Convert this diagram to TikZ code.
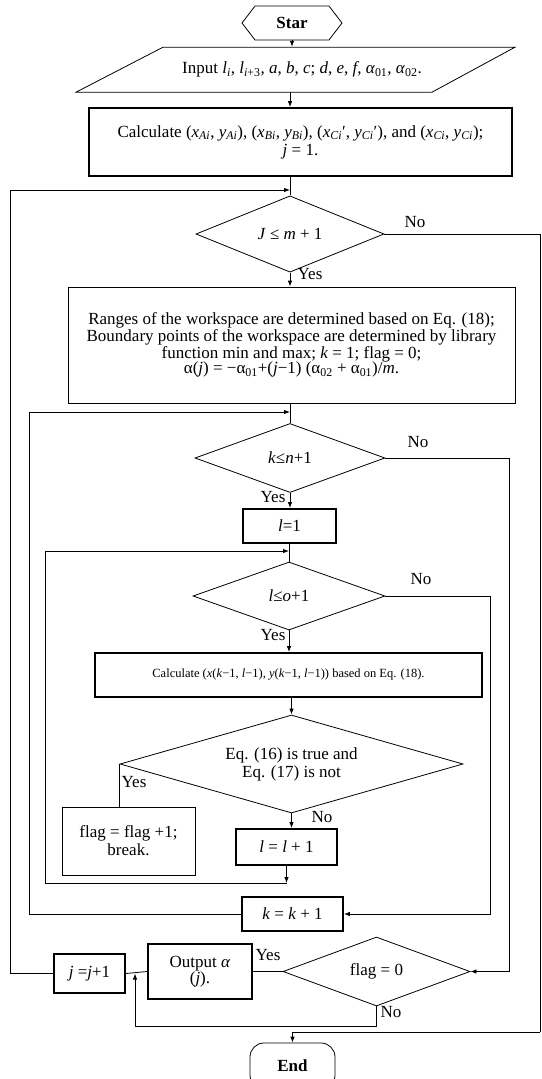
\documentclass[tikz,border=0pt]{standalone}
\usepackage{fontspec}
\setmainfont{Liberation Serif}
\usetikzlibrary{arrows.meta, positioning, shapes.geometric, shapes.symbols}

\newcommand{\fs}{\fontsize{17}{18}\selectfont}
\newcommand{\ssub}[1]{\textsubscript{#1}}
\newcommand{\vi}[1]{\textit{#1}}

\tikzset{
  box/.style={draw, line width=0.8pt, align=center, inner sep=2pt, font=\fs},
  thickbox/.style={box, line width=1.8pt},
  decision/.style={diamond, draw, line width=0.8pt, align=center, inner sep=0pt, font=\fs},
  flow/.style={-{Latex[length=6pt,width=4.5pt]}, line width=0.8pt},
  link/.style={line width=0.8pt},
  lbl/.style={font=\fs, inner sep=0pt}
}

\begin{document}
\begin{tikzpicture}[x=1pt, y=-1pt]
  \useasboundingbox (0,0) rectangle (541,1079);
  \coordinate (axis) at (290,0);

  % Start and input
  \node[signal, signal to=east and west, signal pointer angle=105, draw, line width=0.8pt,
        minimum width=100pt, minimum height=34pt, inner sep=0pt, font=\fs\bfseries]
        (start) at (292,23) {Star};
  \node[font=\fs, minimum height=45pt, minimum width=300pt, inner sep=0pt]
        (input) at (302,69.5)
        {Input \vi{l}\ssub{\vi{i}}, \vi{l}\ssub{\vi{i}+3}, \vi{a}, \vi{b}, \vi{c}; \vi{d}, \vi{e}, \vi{f}, \vi{α}\ssub{01}, \vi{α}\ssub{02}.};
  \draw[link] (input.south) ++(-226,0) -- ++(87,-45) -- ++(352,0) -- ++(-83,45) -- cycle;

  % Outer loop over j
  \node[thickbox, minimum width=423pt, minimum height=68pt] (calc1) at (300.5,142)
        {Calculate (\vi{x}\ssub{\vi{Ai}}, \vi{y}\ssub{\vi{Ai}}), (\vi{x}\ssub{\vi{Bi}}, \vi{y}\ssub{\vi{Bi}}), (\vi{x}\ssub{\vi{Ci}}′, \vi{y}\ssub{\vi{Ci}}′), and (\vi{x}\ssub{\vi{Ci}}, \vi{y}\ssub{\vi{Ci}});\\ \vi{j} = 1.};
  \node[decision, minimum width=188pt, minimum height=68pt] (d1) at (290,234)
        {\vi{J} ≤ \vi{m} + 1};
  \node[box, minimum width=447pt, minimum height=116pt, font=\fontsize{17}{15.5}\selectfont]
        (ranges) at (291.5,345)
        {Ranges of the workspace are determined based on Eq. (18);\\
         Boundary points of the workspace are determined by library\\
         function min and max; \vi{k} = 1; flag = 0;\\
         α(\vi{j}) = −α\ssub{01}+(\vi{j}−1) (α\ssub{02} + α\ssub{01})/\vi{m}.};

  % Loop over k
  \node[decision, minimum width=190pt, minimum height=69pt] (d2) at (290,458)
        {\vi{k}≤\vi{n}+1};
  \node[thickbox, minimum width=93pt, minimum height=34pt] (l1) at (289.5,526) {\vi{l}=1};

  % Loop over l
  \node[decision, minimum width=192pt, minimum height=68pt] (d3) at (289,596)
        {\vi{l}≤\vi{o}+1};
  \node[thickbox, minimum width=387pt, minimum height=44pt, font=\fontsize{12.5}{14}\selectfont]
        (calc2) at (288.5,675)
        {Calculate (\vi{x}(\vi{k}−1, \vi{l}−1), \vi{y}(\vi{k}−1, \vi{l}−1)) based on Eq. (18).};
  \node[decision, shape aspect=3.5, minimum width=343pt, minimum height=98pt] (d4) at (291.5,764)
        {Eq. (16) is true and\\ Eq. (17) is not};
  \node[box, minimum width=133pt, minimum height=68pt] (flag1) at (128.5,841)
        {flag = flag +1;\\ break.};
  \node[thickbox, minimum width=101pt, minimum height=36pt] (lp) at (286.5,847)
        {\vi{l} = \vi{l} + 1};
  \node[thickbox, minimum width=101pt, minimum height=34pt] (kp) at (292.5,914)
        {\vi{k} = \vi{k} + 1};

  % Result and end
  \node[decision, minimum width=187pt, minimum height=69pt] (d5) at (376.5,971.5)
        {flag = 0};
  \node[thickbox, minimum width=104pt, minimum height=55pt, inner sep=0pt,
        font=\fontsize{17}{15}\selectfont] (out) at (200,971.5)
        {Output \vi{α}\\ (\vi{j}).};
  \node[thickbox, minimum width=71pt, minimum height=39pt] (jp) at (89.5,973.5)
        {\vi{j} =\vi{j}+1};
  \node[draw, line width=0.8pt, rounded corners=14pt, minimum width=85pt,
        minimum height=46pt, font=\fs\bfseries] (endn) at (292.5,1066) {End};

  % Free ends of the connectors
  \coordinate (jloop) at (10,190);
  \coordinate (kloop) at (29,412);
  \coordinate (lloop) at (45,551);
  \coordinate (lbot)  at (286.5,883);
  \coordinate (rim)   at (540,1032);
  \coordinate (kexit) at (509,971.5);
  \coordinate (lexit) at (490,914);
  \coordinate (fno)   at (135,1026);

  % Connectors
  \draw[flow] (start.south) -- (start.south |- input.north);
  \draw[flow] (input.south -| axis) -- (calc1.north -| axis);
  \draw[link] (calc1.south -| axis) -- (d1.north);
  \draw[flow] (jp.west) -| (jloop) -- (jloop -| axis);
  \draw[flow] (d1.south) -- (ranges.north -| d1.south);
  \draw[link] (d1.east) -| (rim);
  \draw[flow] (rim) -| (endn.north);

  \draw[link] (ranges.south -| d2.north) -- (d2.north);
  \draw[flow] (kp.west) -| (kloop) -- (kloop -| d2.north);
  \draw[flow] (d2.south) -- (l1.north -| d2.south);
  \draw[flow] (d2.east) -| (kexit) -- (d5.east);

  \draw[link] (l1.south -| d3.north) -- (d3.north);
  \draw[flow] (lbot) -| (lloop) -- (lloop -| d3.north);
  \draw[flow] (d3.south) -- (calc2.north -| d3.south);
  \draw[flow] (d3.east) -| (lexit) -- (kp.east);

  \draw[flow] (calc2.south -| d4.north) -- (d4.north);
  \draw[link] (d4.west) -- (d4.west |- flag1.north);
  \draw[flow] (d4.south) -- (lp.north -| d4.south);
  \draw[flow] (lp.south) -- (lbot);

  \draw[link] (d5.west) -- (out.east);
  \draw[link] (out.west) -- (jp.east);
  \draw[flow] (d5.south) |- (fno) -- (fno |- jp.east);

  % Branch labels
  \node[lbl] (no1)  at (415,222) {No};
  \node[lbl] (yes1) at (310,274) {Yes};
  \node[lbl] (no2)  at (418,442) {No};
  \node[lbl] (yes2) at (273,497) {Yes};
  \node[lbl] (no3)  at (421,579) {No};
  \node[lbl] (yes3) at (273,635) {Yes};
  \node[lbl] (yes4) at (134,782) {Yes};
  \node[lbl] (no4)  at (322,817) {No};
  \node[lbl] (yes5) at (268,955) {Yes};
  \node[lbl] (no5)  at (391,1012) {No};
\end{tikzpicture}
\end{document}
